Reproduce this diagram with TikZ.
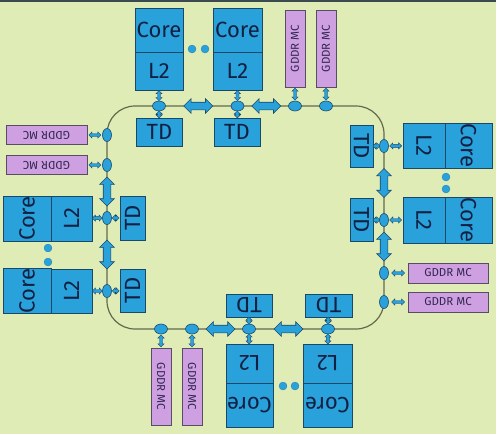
\documentclass[tikz,border=0pt]{standalone}
\usepackage{graphicx}
\usepackage{fontspec}
\setmainfont{Fira Sans}
\usetikzlibrary{shapes.geometric,shapes.arrows}
\definecolor{bgc}{RGB}{224,236,182}
\definecolor{blu}{RGB}{41,161,219}
\definecolor{edgec}{RGB}{28,72,104}
\definecolor{purp}{RGB}{206,160,226}
\definecolor{gedge}{RGB}{88,78,100}
\definecolor{txt}{RGB}{18,32,66}
\definecolor{gtxt}{RGB}{50,40,80}
\definecolor{ringc}{RGB}{100,104,78}
\definecolor{topc}{RGB}{58,74,78}
\tikzset{
  blk/.style={draw=edgec, fill=blu, inner sep=0pt, text=txt, line width=0.8pt, font=\fontsize{22}{22}\selectfont},
  gddr/.style={draw=gedge, fill=purp, inner sep=0pt, text=gtxt, line width=0.8pt, font=\fontsize{11.5}{12}\selectfont},
  oval/.style={ellipse, draw=edgec, fill=blu, inner sep=0pt, line width=0.6pt},
  hov/.style={oval, minimum width=13pt, minimum height=10pt},
  vov/.style={oval, minimum width=9pt, minimum height=13pt},
  bigarr/.style={double arrow, draw=edgec, fill=blu, inner xsep=0pt, inner ysep=3.5pt, line width=0.6pt,
     minimum height=29pt, double arrow head extend=3.5pt},
  sarr/.style={double arrow, draw=edgec, fill=blu, inner xsep=0pt, inner ysep=1.3pt, line width=0.4pt,
     double arrow head extend=1.6pt},
  dotc/.style={circle, fill=blu, draw=blu!80!black, line width=0.3pt, inner sep=0pt, minimum size=8pt},
  ring/.style={draw=ringc, line width=1.2pt, rounded corners=28pt}
}
\begin{document}
\begin{tikzpicture}[x=1pt,y=-1pt]
\fill[bgc] (0,0) rectangle (497,434);
\useasboundingbox (0,0) rectangle (497,434);
\fill[topc] (0,0) rectangle (497,1.5);
\fill[white] (496,0) rectangle (497,434);
\draw[ring] (107,106) rectangle (384,329);

% ---------- top ----------
\node[blk, minimum width=48pt, minimum height=44pt] (tc1) at (159,30) {Core};
\node[blk, minimum width=48pt, minimum height=38pt] (tl1) at (159,71) {L2};
\node[blk, minimum width=49pt, minimum height=44pt] (tc2) at (237.5,30) {Core};
\node[blk, minimum width=49pt, minimum height=38pt] (tl2) at (237.5,71) {L2};
\node[dotc] (tda) at (192,49) {};
\node[dotc] (tdb) at (205,49) {};
\node[gddr, minimum width=20pt, minimum height=77pt] (tg1) at (295,48.5) {\rotatebox{90}{GDDR MC}};
\node[gddr, minimum width=20pt, minimum height=77pt] (tg2) at (326,48.5) {\rotatebox{90}{GDDR MC}};
\node[blk, minimum width=46pt, minimum height=28pt] (tt1) at (159.5,132) {TD};
\node[blk, minimum width=46pt, minimum height=28pt] (tt2) at (237,132) {TD};
\node[hov] (to1) at (159,106) {};
\node[hov] (to2) at (237.5,106) {};
\node[hov] (to3) at (295,106) {};
\node[hov] (to4) at (326,106) {};

% ---------- right ----------
\node[blk, minimum width=23pt, minimum height=42pt] (rt1) at (361.5,146) {\rotatebox{-90}{TD}};
\node[blk, minimum width=42pt, minimum height=45pt] (rl1) at (424,145.5) {\rotatebox{-90}{L2}};
\node[blk, minimum width=47pt, minimum height=45pt] (rc1) at (468.5,145.5) {\rotatebox{-90}{Core}};
\node[dotc] (rda) at (446,177) {};
\node[dotc] (rdb) at (446,189) {};
\node[blk, minimum width=42pt, minimum height=46pt] (rl2) at (424,220) {\rotatebox{-90}{L2}};
\node[blk, minimum width=47pt, minimum height=46pt] (rc2) at (468.5,220) {\rotatebox{-90}{Core}};
\node[blk, minimum width=23pt, minimum height=43pt] (rt2) at (361.5,220) {\rotatebox{-90}{TD}};
\node[gddr, minimum width=80pt, minimum height=20pt] (rg1) at (448,273) {GDDR MC};
\node[gddr, minimum width=80pt, minimum height=20pt] (rg2) at (448,302) {GDDR MC};
\node[vov] (ro1) at (384,146) {};
\node[vov] (ro2) at (384,220) {};
\node[vov] (ro3) at (384,273) {};
\node[vov] (ro4) at (384,302) {};

% ---------- bottom ----------
\node[gddr, minimum width=20pt, minimum height=77pt] (bg1) at (161,386.5) {\rotatebox{-90}{GDDR MC}};
\node[gddr, minimum width=20pt, minimum height=77pt] (bg2) at (192,386.5) {\rotatebox{-90}{GDDR MC}};
\node[blk, minimum width=46pt, minimum height=23pt] (bt1) at (249,305.5) {\rotatebox{180}{TD}};
\node[blk, minimum width=47pt, minimum height=23pt] (bt2) at (328.5,305.5) {\rotatebox{180}{TD}};
\node[blk, minimum width=47pt, minimum height=39pt] (bl1) at (249.5,363.5) {\rotatebox{180}{L2}};
\node[blk, minimum width=47pt, minimum height=44pt] (bc1) at (249.5,405) {\rotatebox{180}{Core}};
\node[blk, minimum width=49pt, minimum height=39pt] (bl2) at (327.5,363.5) {\rotatebox{180}{L2}};
\node[blk, minimum width=49pt, minimum height=44pt] (bc2) at (327.5,405) {\rotatebox{180}{Core}};
\node[dotc] (bda) at (283,386) {};
\node[dotc] (bdb) at (295,386) {};
\node[hov] (bo1) at (161,329) {};
\node[hov] (bo2) at (192,329) {};
\node[hov] (bo3) at (249,329) {};
\node[hov] (bo4) at (328,329) {};

% ---------- left ----------
\node[gddr, minimum width=81pt, minimum height=19pt] (lg1) at (46.5,135) {\rotatebox{180}{GDDR MC}};
\node[gddr, minimum width=81pt, minimum height=19pt] (lg2) at (46.5,165) {\rotatebox{180}{GDDR MC}};
\node[blk, minimum width=48pt, minimum height=45pt] (lc1) at (27,218.5) {\rotatebox{90}{Core}};
\node[blk, minimum width=41pt, minimum height=45pt] (ll1) at (71.5,218.5) {\rotatebox{90}{L2}};
\node[blk, minimum width=25pt, minimum height=44pt] (lt1) at (132.5,218) {\rotatebox{90}{TD}};
\node[dotc] (lda) at (48,248) {};
\node[dotc] (ldb) at (48,262) {};
\node[blk, minimum width=48pt, minimum height=44pt] (lc2) at (27,291) {\rotatebox{90}{Core}};
\node[blk, minimum width=41pt, minimum height=44pt] (ll2) at (71.5,291) {\rotatebox{90}{L2}};
\node[blk, minimum width=25pt, minimum height=43pt] (lt2) at (132.5,290.5) {\rotatebox{90}{TD}};
\node[vov] (lo1) at (107,135) {};
\node[vov] (lo2) at (107,165) {};
\node[vov] (lo3) at (107,218) {};
\node[vov] (lo4) at (107,291) {};

% ---------- big arrows ----------
\path (to1) -- node[bigarr, sloped] {} (to2);
\path (to2) -- node[bigarr, sloped] {} (to3);
\path (ro1) -- node[bigarr, sloped] {} (ro2);
\path (ro2) -- node[bigarr, sloped] {} (ro3);
\path (bo2) -- node[bigarr, sloped] {} (bo3);
\path (bo3) -- node[bigarr, sloped] {} (bo4);
\path (lo2) -- node[bigarr, sloped] {} (lo3);
\path (lo3) -- node[bigarr, sloped] {} (lo4);

% ---------- small arrows ----------
\path (tl1) -- node[sarr, sloped, minimum height=10pt] {} (to1);
\path (to1) -- node[sarr, sloped, minimum height=7pt] {} (tt1);
\path (tl2) -- node[sarr, sloped, minimum height=10pt] {} (to2);
\path (to2) -- node[sarr, sloped, minimum height=7pt] {} (tt2);
\path (tg1) -- node[sarr, sloped, minimum height=12pt] {} (to3);
\path (tg2) -- node[sarr, sloped, minimum height=12pt] {} (to4);

\path (rt1) -- node[sarr, sloped, minimum height=7pt] {} (ro1);
\path (ro1) -- node[sarr, sloped, minimum height=12pt] {} (rl1);
\path (rt2) -- node[sarr, sloped, minimum height=7pt] {} (ro2);
\path (ro2) -- node[sarr, sloped, minimum height=12pt] {} (rl2);
\path (ro3) -- node[sarr, sloped, minimum height=13pt] {} (rg1);
\path (ro4) -- node[sarr, sloped, minimum height=13pt] {} (rg2);

\path (bo1) -- node[sarr, sloped, minimum height=12pt] {} (bg1);
\path (bo2) -- node[sarr, sloped, minimum height=12pt] {} (bg2);
\path (bt1) -- node[sarr, sloped, minimum height=7pt] {} (bo3);
\path (bo3) -- node[sarr, sloped, minimum height=10pt] {} (bl1);
\path (bt2) -- node[sarr, sloped, minimum height=7pt] {} (bo4);
\path (bo4) -- node[sarr, sloped, minimum height=10pt] {} (bl2);

\path (lg1) -- node[sarr, sloped, minimum height=12pt] {} (lo1);
\path (lg2) -- node[sarr, sloped, minimum height=12pt] {} (lo2);
\path (ll1) -- node[sarr, sloped, minimum height=10pt] {} (lo3);
\path (lo3) -- node[sarr, sloped, minimum height=7pt] {} (lt1);
\path (ll2) -- node[sarr, sloped, minimum height=10pt] {} (lo4);
\path (lo4) -- node[sarr, sloped, minimum height=7pt] {} (lt2);
\end{tikzpicture}
\end{document}
